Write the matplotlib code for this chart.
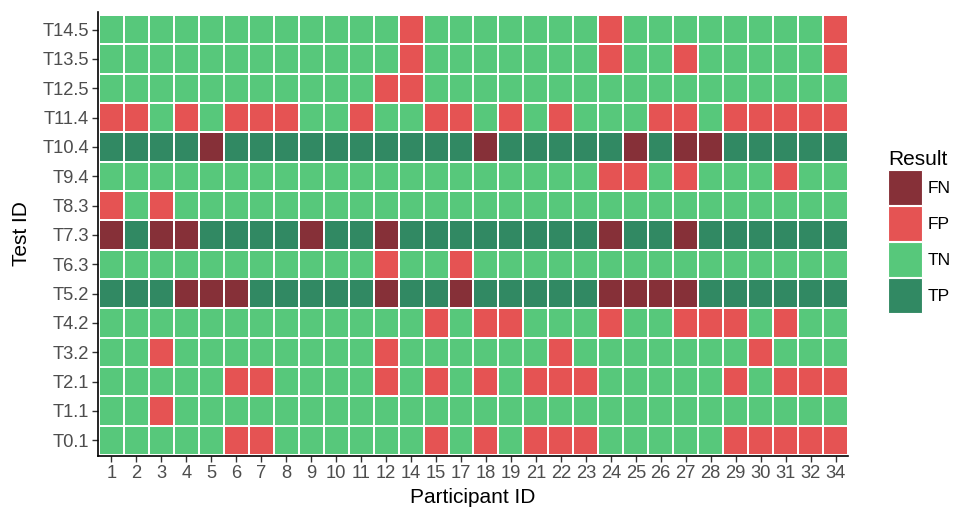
import matplotlib
matplotlib.use("Agg")
import matplotlib.pyplot as plt
import numpy as np
from matplotlib.colors import ListedColormap
from matplotlib.patches import Patch

plt.rcParams['font.family'] = ['Liberation Sans', 'DejaVu Sans']

participants = [1, 2, 3, 4, 5, 6, 7, 8, 9, 10, 11, 12, 14, 15, 17, 18, 19,
                21, 22, 23, 24, 25, 26, 27, 28, 29, 30, 31, 32, 34]

test_ids = ["T0.1", "T1.1", "T2.1", "T3.2", "T4.2", "T5.2", "T6.3", "T7.3",
            "T8.3", "T9.4", "T10.4", "T11.4", "T12.5", "T13.5", "T14.5"]

result_levels = ["FN", "FP", "TN", "TP"]
result_colors = ["#863038", "#E55353", "#57C87B", "#318963"]

# one row per test, one entry per participant (in the order above)
T0_1 = ("TN TN TN TN TN  FP FP TN TN TN  TN TN TN FP TN  FP TN FP FP FP  "
        "TN TN TN TN TN  FP FP FP FP FP").split()
T1_1 = ("TN TN FP TN TN  TN TN TN TN TN  TN TN TN TN TN  TN TN TN TN TN  "
        "TN TN TN TN TN  TN TN TN TN TN").split()
T2_1 = ("TN TN TN TN TN  FP FP TN TN TN  TN FP TN FP TN  FP TN FP FP FP  "
        "TN TN TN TN TN  FP TN FP FP FP").split()
T3_2 = ("TN TN FP TN TN  TN TN TN TN TN  TN FP TN TN TN  TN TN TN FP TN  "
        "TN TN TN TN TN  TN FP TN TN TN").split()
T4_2 = ("TN TN TN TN TN  TN TN TN TN TN  TN TN TN FP TN  FP FP TN TN TN  "
        "FP TN TN FP FP  FP TN FP TN TN").split()
T5_2 = ("TP TP TP FN FN  FN TP TP TP TP  TP FN TP TP FN  TP TP TP TP TP  "
        "FN FN FN FN TP  TP TP TP TP TP").split()
T6_3 = ("TN TN TN TN TN  TN TN TN TN TN  TN FP TN TN FP  TN TN TN TN TN  "
        "TN TN TN TN TN  TN TN TN TN TN").split()
T7_3 = ("FN TP FN FN TP  TP TP TP FN TP  TP FN TP TP TP  TP TP TP TP TP  "
        "FN TP TP FN TP  TP TP TP TP TP").split()
T8_3 = ("FP TN FP TN TN  TN TN TN TN TN  TN TN TN TN TN  TN TN TN TN TN  "
        "TN TN TN TN TN  TN TN TN TN TN").split()
T9_4 = ("TN TN TN TN TN  TN TN TN TN TN  TN TN TN TN TN  TN TN TN TN TN  "
        "FP FP TN FP TN  TN TN FP TN TN").split()
T10_4 = ("TP TP TP TP FN  TP TP TP TP TP  TP TP TP TP TP  FN TP TP TP TP  "
         "TP FN TP FN FN  TP TP TP TP TP").split()
T11_4 = ("FP FP TN FP TN  FP FP FP TN TN  FP TN TN FP FP  TN FP TN FP TN  "
         "TN TN FP FP TN  FP FP FP FP FP").split()
T12_5 = ("TN TN TN TN TN  TN TN TN TN TN  TN FP FP TN TN  TN TN TN TN TN  "
         "TN TN TN TN TN  TN TN TN TN TN").split()
T13_5 = ("TN TN TN TN TN  TN TN TN TN TN  TN TN FP TN TN  TN TN TN TN TN  "
         "FP TN TN FP TN  TN TN TN TN FP").split()
T14_5 = ("TN TN TN TN TN  TN TN TN TN TN  TN TN FP TN TN  TN TN TN TN TN  "
         "FP TN TN TN TN  TN TN TN TN FP").split()

rows = [T0_1, T1_1, T2_1, T3_2, T4_2, T5_2, T6_3, T7_3, T8_3, T9_4,
        T10_4, T11_4, T12_5, T13_5, T14_5]

grid = np.array([[result_levels.index(v) for v in r] for r in rows])

fig = plt.figure(figsize=(9.75, 5.25), dpi=100)
ax = fig.add_axes([98 / 975, 1 - 456 / 525, (848 - 98) / 975, (456 - 12) / 525])

cmap = ListedColormap(result_colors)
x_edges = np.arange(len(participants) + 1) + 0.5
y_edges = np.arange(len(test_ids) + 1) + 0.5
ax.pcolormesh(x_edges, y_edges, grid, cmap=cmap, vmin=-0.5, vmax=3.5,
              edgecolors="white", linewidth=1.3)

ax.set_xlim(0.46, len(participants) + 0.5)
ax.set_ylim(0.46, len(test_ids) + 0.6)
ax.set_xticks(np.arange(1, len(participants) + 1))
ax.set_xticklabels([str(p) for p in participants])
ax.set_yticks(np.arange(1, len(test_ids) + 1))
ax.set_yticklabels(test_ids)

for s in ["top", "right"]:
    ax.spines[s].set_visible(False)
for s in ["left", "bottom"]:
    ax.spines[s].set_linewidth(1.2)
    ax.spines[s].set_color("black")
ax.tick_params(axis="both", length=4, width=1.0, color="#333333",
               labelsize=13.2, labelcolor="#4D4D4D", pad=2.5)

ax.set_xlabel("Participant ID", fontsize=15, color="black", labelpad=4)
ax.set_ylabel("Test ID", fontsize=15, color="black", labelpad=8)

handles = [Patch(facecolor=c, edgecolor="white", linewidth=0.8)
           for c in result_colors]
leg = fig.legend(handles, result_levels, loc="upper left",
                 bbox_to_anchor=(881 / 975, 1 - 143 / 525),
                 frameon=False, fontsize=12.5, title="Result",
                 title_fontsize=15, handlelength=1.95, handleheight=2.72,
                 labelspacing=0.06, handletextpad=0.35, borderaxespad=0)
leg._legend_box.align = "left"

fig.savefig("out.png", dpi=100)
